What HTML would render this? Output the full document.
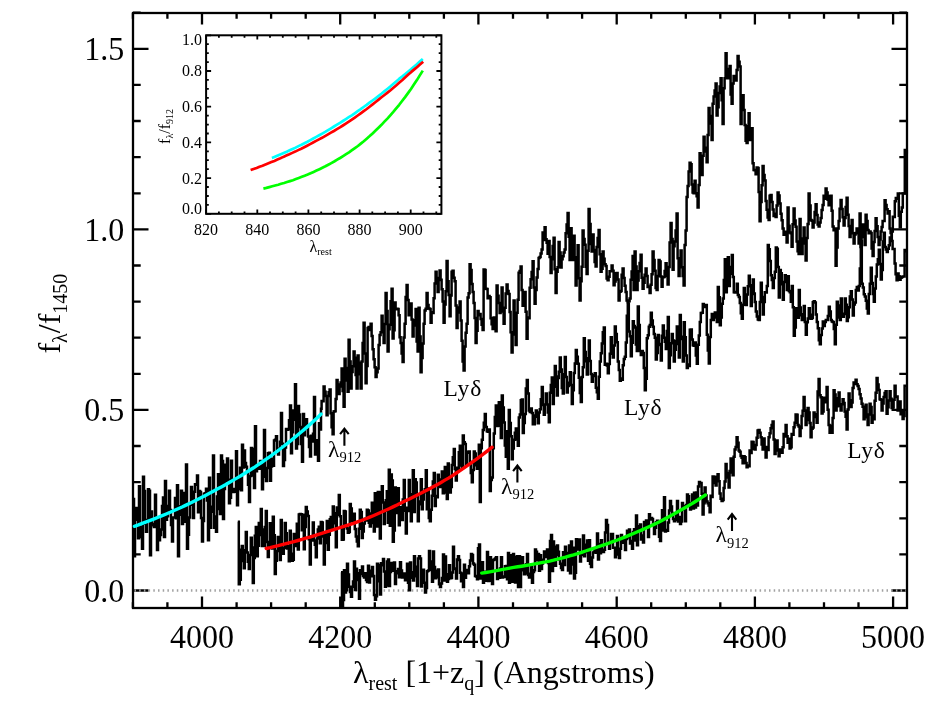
<!DOCTYPE html>
<html><head><meta charset="utf-8"><title>Spectra</title>
<style>html,body{margin:0;padding:0;background:#fff;font-family:"Liberation Serif",serif}svg text{font-family:"Liberation Serif",serif}svg text{filter:grayscale(1)}</style></head>
<body>
<svg width="941" height="715" viewBox="0 0 941 715" style="display:block">
<rect width="941" height="715" fill="#fff"/>
<g stroke="#000" stroke-width="2.3" fill="none" stroke-linecap="butt">
<rect x="133.0" y="13.0" width="774.0" height="595.0"/>
<path d="M132.9 608.0V602.2M132.9 13.0V18.8"/>
<path d="M167.4 608.0V602.2M167.4 13.0V18.8"/>
<path d="M202.0 608.0V596.5M202.0 13.0V24.5"/>
<path d="M236.6 608.0V602.2M236.6 13.0V18.8"/>
<path d="M271.1 608.0V602.2M271.1 13.0V18.8"/>
<path d="M305.7 608.0V602.2M305.7 13.0V18.8"/>
<path d="M340.2 608.0V596.5M340.2 13.0V24.5"/>
<path d="M374.8 608.0V602.2M374.8 13.0V18.8"/>
<path d="M409.3 608.0V602.2M409.3 13.0V18.8"/>
<path d="M443.9 608.0V602.2M443.9 13.0V18.8"/>
<path d="M478.4 608.0V596.5M478.4 13.0V24.5"/>
<path d="M513.0 608.0V602.2M513.0 13.0V18.8"/>
<path d="M547.5 608.0V602.2M547.5 13.0V18.8"/>
<path d="M582.1 608.0V602.2M582.1 13.0V18.8"/>
<path d="M616.7 608.0V596.5M616.7 13.0V24.5"/>
<path d="M651.2 608.0V602.2M651.2 13.0V18.8"/>
<path d="M685.8 608.0V602.2M685.8 13.0V18.8"/>
<path d="M720.3 608.0V602.2M720.3 13.0V18.8"/>
<path d="M754.9 608.0V596.5M754.9 13.0V24.5"/>
<path d="M789.4 608.0V602.2M789.4 13.0V18.8"/>
<path d="M824.0 608.0V602.2M824.0 13.0V18.8"/>
<path d="M858.5 608.0V602.2M858.5 13.0V18.8"/>
<path d="M893.1 608.0V596.5M893.1 13.0V24.5"/>
<path d="M133.0 590.5H148.5M907.0 590.5H891.5"/>
<path d="M133.0 554.4H140.7M907.0 554.4H899.3"/>
<path d="M133.0 518.3H140.7M907.0 518.3H899.3"/>
<path d="M133.0 482.2H140.7M907.0 482.2H899.3"/>
<path d="M133.0 446.0H140.7M907.0 446.0H899.3"/>
<path d="M133.0 409.9H148.5M907.0 409.9H891.5"/>
<path d="M133.0 373.8H140.7M907.0 373.8H899.3"/>
<path d="M133.0 337.7H140.7M907.0 337.7H899.3"/>
<path d="M133.0 301.6H140.7M907.0 301.6H899.3"/>
<path d="M133.0 265.5H140.7M907.0 265.5H899.3"/>
<path d="M133.0 229.4H148.5M907.0 229.4H891.5"/>
<path d="M133.0 193.3H140.7M907.0 193.3H899.3"/>
<path d="M133.0 157.1H140.7M907.0 157.1H899.3"/>
<path d="M133.0 121.0H140.7M907.0 121.0H899.3"/>
<path d="M133.0 84.9H140.7M907.0 84.9H899.3"/>
<path d="M133.0 48.8H148.5M907.0 48.8H891.5"/>
<path d="M133.0 12.7H140.7M907.0 12.7H899.3"/>
</g>
<line x1="134.5" y1="590.5" x2="906.0" y2="590.5" stroke="#a2a2a2" stroke-width="2.4" stroke-dasharray="1.5 3.2"/>
<g fill="none" stroke="#000" stroke-width="2.5" stroke-linejoin="miter" stroke-linecap="butt">
<path d="M341.0 572.2H342.0V607.3H343.0V600.0H344.0V570.2H345.0V592.4H346.0V590.3H347.0V563.7H348.0V574.5H349.0V586.8H350.0V592.1H351.0V596.7H352.0V586.7H353.0V581.6H354.0V561.6H355.0V589.9H356.0V568.8H357.0V573.2H358.0V579.9H359.0V598.8H360.0V570.2H361.0V574.1H362.0V566.5H363.0V576.0H364.0V577.5H365.0V573.2H366.0V579.9H367.0V582.0H368.0V565.8H369.0V582.6H370.0V570.7H371.0V576.3H372.0V567.1H373.0V576.1H374.0V595.0H375.0V599.8H376.0V596.3H377.0V563.7H378.0V581.2H379.0V564.9H380.0V594.5H381.0V563.3H382.0V565.3H383.0V559.0H384.0V571.5H385.0V586.7H386.0V585.6H387.0V561.4H388.0V559.5H389.0V586.0H390.0V571.9H391.0V562.9H392.0V563.4H393.0V570.7H394.0V562.6H395.0V583.9H396.0V571.3H397.0V573.2H398.0V569.1H399.0V577.3H400.0V562.2H401.0V570.4H402.0V577.5H403.0V574.1H404.0V573.6H405.0V580.3H406.0V575.7H407.0V563.7H408.0V582.8H409.0V590.3H410.0V562.5H411.0V577.8H412.0V572.3H413.0V580.6H414.0V556.3H415.0V576.2H416.0V566.7H417.0V586.0H418.0V558.5H419.0V556.3H420.0V558.4H421.0V586.5H422.0V569.8H423.0V569.8H424.0V582.7H425.0V592.4H426.0V588.0H427.0V571.3H428.0V570.5H429.0V551.0H430.0V569.7H431.0V561.4H432.0V581.8H433.0V551.6H434.0V567.1H435.0V578.2H436.0V577.2H437.0V570.7H438.0V569.4H439.0V584.2H440.0V587.1H441.0V583.5H442.0V577.9H443.0V554.6H444.0V580.5H445.0V556.6H446.0V574.3H447.0V581.8H448.0V579.1H449.0V565.2H450.0V578.3H451.0V577.9H452.0V572.4H453.0V546.7H454.0V568.9H455.0V568.5H456.0V578.6H457.0V559.4H458.0V556.3H459.0V559.9H460.0V572.7H461.0V581.3H462.0V573.4H463.0V587.1H464.0V564.8H465.0V577.8H466.0V570.1H467.0V570.2H468.0V573.3H469.0V566.2H470.0V560.4H471.0V554.1H472.0V555.1H473.0V563.5H474.0V564.8H475.0V575.9H476.0V576.4H477.0V579.2H478.0V548.3H479.0V544.6H480.0V578.4H481.0V572.3H482.0V562.2H483.0V582.8H484.0V571.8H485.0V572.8H486.0V580.8H487.0V552.0H488.0V581.1H489.0V580.8H490.0V557.3H491.0V573.3H492.0V583.9H493.0V559.9H494.0V559.6H495.0V558.6H496.0V557.3H497.0V578.9H498.0V570.4H499.0V577.7H500.0V568.6H501.0V557.2H502.0V577.5H503.0V576.4H504.0V577.1H505.0V566.2H506.0V565.9H507.0V579.3H508.0V553.1H509.0V582.8H510.0V580.3H511.0V555.2H512.0V581.8H513.0V554.1H514.0V556.9H515.0V582.4H516.0V578.0H517.0V556.3H518.0V587.1H519.0V556.3H520.0V587.1H521.0V570.2H522.0V557.3H523.0V565.8H524.0V574.3H525.0V573.5H526.0V564.2H527.0V554.1H528.0V575.0H529.0V577.6H530.0V573.8H531.0V566.1H532.0V582.8H533.0V571.9H534.0V570.2H535.0V549.5H536.0V551.7H537.0V560.3H538.0V554.0H539.0V570.8H540.0V555.3H541.0V569.0H542.0V563.6H543.0V559.7H544.0V551.6H545.0V557.1H546.0V552.4H547.0V549.5H548.0V562.9H549.0V581.8H550.0V541.1H551.0V535.0H552.0V571.0H553.0V541.6H554.0V546.8H555.0V565.8H556.0V555.1H557.0V545.6H558.0V551.8H559.0V559.6H560.0V563.8H561.0V567.9H562.0V570.1H563.0V552.3H564.0V564.9H565.0V546.7H566.0V552.9H567.0V556.6H568.0V570.4H569.0V545.4H570.0V573.3H571.0V541.4H572.0V564.6H573.0V547.8H574.0V578.6H575.0V572.7H576.0V539.3H577.0V549.5H578.0V544.3H579.0V539.6H580.0V561.6H581.0V552.6H582.0V554.7H583.0V535.4H584.0V556.3H585.0V544.7H586.0V552.2H587.0V540.4H588.0V560.8H589.0V540.3H590.0V563.8H591.0V566.9H592.0V557.4H593.0V552.4H594.0V551.4H595.0V549.3H596.0V552.7H597.0V533.5H598.0V559.5H599.0V544.1H600.0V553.2H601.0V540.3H602.0V551.5H603.0V552.0H604.0V549.8H605.0V532.6H606.0V520.1H607.0V525.1H608.0V542.7H609.0V548.8H610.0V542.1H611.0V534.1H612.0V534.0H613.0V547.8H614.0V547.7H615.0V557.3H616.0V549.0H617.0V536.1H618.0V554.5H619.0V558.0H620.0V548.8H621.0V535.0H622.0V539.8H623.0V542.8H624.0V538.4H625.0V549.9H626.0V539.0H627.0V530.8H628.0V537.6H629.0V529.6H630.0V543.6H631.0V541.1H632.0V548.8H633.0V532.1H634.0V529.2H635.0V540.4H636.0V515.5H637.0V545.2H638.0V530.1H639.0V526.2H640.0V524.4H641.0V539.6H642.0V535.6H643.0V542.5H644.0V521.9H645.0V527.7H646.0V520.4H647.0V525.4H648.0V537.0H649.0V514.2H650.0V519.4H651.0V518.1H652.0V519.1H653.0V524.2H654.0V534.0H655.0V527.8H656.0V522.3H657.0V520.8H658.0V523.3H659.0V536.8H660.0V541.0H661.0V521.0H662.0V510.2H663.0V530.6H664.0V497.2H665.0V531.4H666.0V530.0H667.0V530.8H668.0V522.6H669.0V510.5H670.0V501.0H671.0V506.5H672.0V513.0H673.0V519.0H674.0V521.2H675.0V520.1H676.0V514.8H677.0V501.0H678.0V521.5H679.0V517.1H680.0V524.0H681.0V521.4H682.0V503.1H683.0V506.3H684.0V509.3H685.0V521.2H686.0V505.0H687.0V494.6H688.0V496.3H689.0V503.6H690.0V509.5H691.0V502.9H692.0V494.6H693.0V508.4H694.0V492.8H695.0V507.4H696.0V492.4H697.0V505.4H698.0V486.5H699.0V481.9H700.0V483.1H701.6V493.7H702.6V514.5H703.6V503.2H704.6V487.6H705.6V495.5H706.6V501.5H707.6V503.3H708.6V505.5H709.6V512.2H710.6V495.8H711.6V497.0H712.6V476.4H713.6V483.1H714.6V476.8H715.6V485.4H716.6V479.7H717.6V474.2H718.6V481.3H719.6V493.6H720.6V498.8H721.6V500.9H722.6V499.9H723.6V488.1H724.6V481.4H725.6V464.1H726.6V472.9H727.6V477.5H728.6V487.6H729.6V470.9H730.6V458.5H731.6V472.6H732.6V475.3H733.6V456.7H734.6V449.5H735.6V447.1H736.6V437.2H737.6V442.8H738.6V450.5H739.6V451.8H740.6V456.1H741.6V457.8H742.6V463.3H743.6V456.3H744.6V457.2H745.6V463.0H746.6V467.2H747.6V465.6H748.6V466.3H749.6V450.5H750.6V453.1H751.6V441.7H752.6V441.9H753.6V448.8H754.6V449.5H755.6V445.1H756.6V437.7H757.6V430.5H758.6V430.1H759.6V432.8H760.6V437.3H761.6V444.5H762.6V449.5H763.6V438.4H764.6V447.3H765.6V457.4H766.6V447.1H767.6V449.9H768.6V437.2H769.6V433.3H770.6V428.2H771.6V425.1H772.6V421.6H773.6V439.4H774.6V454.0H775.6V450.4H776.6V440.6H777.6V450.0H778.6V456.3H779.6V449.4H780.6V451.9H781.6V452.8H782.6V447.3H783.6V434.1H784.6V436.4H785.6V424.9H786.6V436.3H787.6V442.8H788.6V438.8H789.6V448.5H790.6V447.3H791.6V434.0H792.6V434.7H793.6V427.2H794.6V422.8H795.6V414.4H796.6V414.8H797.6V424.9H798.6V426.6H799.6V436.1H800.6V428.0H801.6V416.0H802.6V410.7H803.6V396.9H804.6V410.6H805.6V424.9H806.6V419.9H807.6V408.1H808.6V412.6H809.6V423.0H810.6V437.2H811.6V428.7H812.6V427.5H813.6V412.6H814.6V414.2H815.6V417.1H816.6V422.7H817.6V391.4H818.6V379.0H819.6V395.2H820.6V397.2H821.6V413.6H822.6V411.5H823.6V397.7H824.6V402.2H825.6V399.3H826.6V386.9H827.6V409.8H828.6V424.9H829.6V432.8H830.6V425.7H831.6V432.8H832.6V418.0H833.6V390.2H834.6V394.6H835.6V410.4H836.6V406.3H837.6V398.3H838.6V392.5H839.6V406.1H840.6V410.4H841.6V404.3H842.6V399.2H843.6V402.9H844.6V411.5H845.6V416.8H846.6V429.4H847.6V409.4H848.6V393.6H849.6V400.2H850.6V407.0H851.6V402.6H852.6V388.0H853.6V382.6H854.6V383.7H855.6V379.7H856.6V384.3H857.6V386.0H858.6V389.1H859.6V394.3H860.6V398.5H861.6V403.7H862.6V406.7H863.6V419.3H864.6V410.7H865.6V404.8H866.6V417.2H867.6V424.9H868.6V414.4H869.6V403.7H870.6V407.0H871.6V422.7H872.6V415.5H873.6V419.3H874.6V400.7H875.6V392.8H876.6V377.9H877.6V384.6H878.6V390.1H879.6V399.2H880.6V399.7H881.6V410.4H882.6V403.5H883.6V396.9H884.6V392.9H885.6V391.3H886.6V413.7H887.6V407.2H888.6V400.5H889.6V391.3H890.6V398.8H891.6V408.1H892.6V407.5H893.6V399.8H894.6V385.7H895.6V396.9H896.6V396.4H897.6V410.4H898.6V408.0H899.6V401.4H900.6V414.2H901.6V411.5H902.6V419.1H903.6V416.0H904.6V385.7H905.6V385.7H906.6"/>
<path d="M237.8 521.8H238.8V584.3H239.8V579.8H240.8V549.8H241.8V546.0H242.8V560.9H243.8V568.3H244.8V550.3H245.8V532.0H246.8V552.4H247.8V561.7H248.8V569.0H249.8V555.1H250.8V537.7H251.8V547.5H252.8V583.0H253.8V557.9H254.8V535.8H255.8V527.0H256.8V556.2H257.8V545.7H258.8V523.1H259.8V535.1H260.8V509.0H261.8V545.9H262.8V529.4H263.8V546.0H264.8V527.0H265.8V510.9H266.8V542.1H267.8V556.9H268.8V545.3H269.8V523.2H270.8V533.3H271.8V548.4H272.8V516.7H273.8V535.2H274.8V574.1H275.8V560.8H276.8V551.1H277.8V537.1H278.8V548.3H279.8V560.1H280.8V519.9H281.8V547.8H282.8V553.7H283.8V547.7H284.8V523.1H285.8V533.3H286.8V548.6H287.8V546.2H288.8V561.3H289.8V530.7H290.8V553.7H291.8V560.7H292.8V559.8H293.8V534.1H294.8V546.0H295.8V534.9H296.8V523.7H297.8V549.5H298.8V514.4H299.8V514.1H300.8V514.3H301.8V530.2H302.8V514.8H303.8V549.2H304.8V527.1H305.8V507.1H306.8V511.4H307.8V516.0H308.8V539.2H309.8V564.5H310.8V536.4H311.8V540.5H312.8V522.4H313.8V540.6H314.8V544.7H315.8V557.2H316.8V538.4H317.8V529.4H318.8V526.8H319.8V543.3H320.8V522.1H321.8V522.4H322.8V536.6H323.8V564.5H324.8V535.0H325.8V543.1H326.8V521.1H327.8V549.8H328.8V534.7H329.8V519.2H330.8V517.1H331.8V528.5H332.8V506.5H333.8V523.2H334.8V513.2H335.8V547.3H336.8V507.6H337.8V514.7H338.8V495.0H339.8V516.3H340.8V526.3H341.8V539.8H342.8V539.6H343.8V511.1H344.8V511.6H345.8V526.4H346.8V528.6H347.8V532.8H348.8V532.0H349.8V504.1H350.8V508.6H351.8V521.3H352.8V515.1H353.8V513.7H354.8V528.9H355.8V536.6H356.8V541.4H357.8V546.2H358.8V528.8H359.8V509.8H360.8V512.0H361.8V537.9H362.8V531.4H363.8V523.4H364.8V518.8H365.8V520.6H366.8V509.8H367.8V510.6H368.8V522.8H369.8V526.4H370.8V513.6H371.8V502.8H372.8V523.1H373.8V531.5H374.8V493.3H375.8V499.0H376.8V526.4H377.8V492.0H378.8V514.1H379.8V538.5H380.8V492.3H381.8V486.2H382.8V502.4H383.8V523.9H384.8V510.8H385.8V500.3H386.8V491.3H387.8V522.8H388.8V469.7H389.8V525.8H390.8V474.5H391.8V480.5H392.8V541.7H393.8V530.4H394.8V487.5H395.8V513.1H396.8V491.1H397.8V488.2H398.8V525.2H399.8V507.2H400.8V517.8H401.8V520.1H402.8V499.4H403.8V479.9H404.8V510.7H405.8V533.4H406.8V507.8H407.8V510.9H408.8V479.9H409.8V509.9H410.8V521.3H411.8V494.3H412.8V470.3H413.8V512.1H414.8V479.3H415.8V482.4H416.8V496.3H417.8V521.3H418.8V504.3H419.8V501.6H420.8V479.2H421.8V509.2H422.8V499.6H423.8V492.2H424.8V489.3H425.8V470.3H426.8V509.2H427.8V488.5H428.8V518.0H429.8V521.3H430.8V509.7H431.8V495.8H432.8V481.6H433.8V472.9H434.8V506.0H435.8V496.0H436.8V497.3H437.8V474.8H438.8V479.6H439.8V486.9H440.8V482.9H441.8V471.6H442.8V493.3H443.8V482.7H444.8V467.1H445.8V492.5H446.8V499.0H447.8V463.6H448.8V477.9H449.8V492.6H450.8V486.9H451.8V464.9H452.8V457.3H453.8V449.1H454.8V469.1H455.8V480.6H456.8V467.8H457.8V470.8H458.8V452.3H459.8V445.7H460.8V465.6H461.8V468.7H462.8V435.4H463.8V442.2H464.8V444.1H465.8V465.3H466.8V452.8H467.8V451.8H468.8V451.6H469.8V461.9H470.8V473.1H471.8V482.3H472.8V470.1H473.8V451.6H474.8V453.6H475.8V465.2H476.8V468.7H477.8V458.2H478.8V444.8H479.8V502.0H480.8V448.2H481.8V439.7H482.8V430.0H483.8V422.7H484.8V414.1H485.8V426.9H486.8V431.2H487.8V431.7H488.8V429.5H489.8V490.9H490.8V480.1H491.8V477.6H492.8V448.2H493.8V433.6H494.8V417.0H495.8V405.6H496.8V426.1H497.8V425.8H498.8V402.2H499.8V417.7H500.8V438.0H501.8V395.4H502.8V407.6H503.8V422.6H504.8V445.5H505.8V456.8H506.8V431.2H507.8V468.7H508.8V409.9H509.8V423.0H510.8V436.3H511.8V459.3H512.8V448.5H513.8V439.7H514.8V432.7H515.8V428.6H516.8V439.6H517.8V445.7H518.8V417.5H519.8V414.6H520.8V400.2H521.8V399.6H522.8V432.9H523.8V423.0H524.8V414.1H525.8V388.5H526.8V380.0H527.8V393.5H528.8V410.5H529.8V412.1H530.8V408.4H531.8V413.1H532.8V424.3H533.8V424.3H534.8V415.4H535.8V410.5H536.8V416.7H537.8V423.3H538.8V412.4H539.8V409.2H540.8V399.2H541.8V387.1H542.8V405.1H543.8V414.8H544.8V404.5H545.8V393.5H546.8V404.5H547.8V412.4H548.8V422.2H549.8V392.8H550.8V385.0H551.8V377.6H552.8V404.1H553.8V386.7H554.8V365.9H555.8V376.6H556.8V395.6H557.8V377.9H558.8V371.8H559.8V357.4H560.8V369.4H561.8V387.9H562.8V393.5H563.8V374.3H564.8V357.0H565.8V377.0H566.8V392.5H567.8V386.0H568.8V382.7H569.8V372.3H570.8V385.1H571.8V404.1H572.8V390.2H573.8V373.1H574.8V363.4H575.8V349.9H576.8V356.8H577.8V363.8H578.8V377.7H579.8V393.0H580.8V402.0H581.8V377.0H582.8V367.2H583.8V338.3H584.8V352.1H585.8V361.2H586.8V374.4H587.8V358.2H588.8V340.4H589.8V361.1H590.8V373.9H591.8V381.8H592.8V375.1H593.8V376.1H594.8V373.3H595.8V387.8H596.8V392.2H597.8V398.8H598.8V376.8H599.8V361.6H600.8V353.2H601.8V343.4H602.8V332.2H603.8V327.6H604.8V364.8H605.8V363.8H606.8V365.4H607.8V373.3H608.8V363.9H609.8V353.8H610.8V337.2H611.8V350.4H612.8V357.4H613.8V345.4H614.8V326.6H615.8V334.1H616.8V342.3H617.8V361.6H618.8V369.9H619.8V380.8H620.8V378.4H621.8V379.7H622.8V365.3H623.8V359.1H624.8V356.8H625.8V342.5H626.8V315.7H627.8V304.3H628.8V331.6H629.8V336.3H630.8V356.3H631.8V342.7H632.8V321.3H633.8V325.9H634.8V327.6H635.8V344.5H636.8V351.0H637.8V306.4H638.8V324.9H639.8V351.0H640.8V355.0H641.8V350.9H642.8V353.1H643.8V368.0H644.8V390.3H645.8V378.8H646.8V338.3H647.8V335.3H648.8V326.8H649.8V324.9H650.8V312.8H651.8V320.4H652.8V326.8H653.8V334.0H654.8V337.7H655.8V359.5H656.8V353.0H657.8V335.1H658.8V345.1H659.8V343.9H660.8V360.6H661.8V335.8H662.8V325.5H663.8V337.7H664.8V341.8H665.8V348.9H666.8V331.0H667.8V317.0H668.8V368.0H669.8V355.2H670.8V343.3H671.8V334.0H672.8V340.5H673.8V361.6H674.8V349.8H675.8V341.1H676.8V326.6H677.8V344.0H678.8V357.4H679.8V314.9H680.8V336.7H681.8V339.0H682.8V361.6H683.8V322.3H684.8V337.2H685.8V355.6H686.8V368.0H687.8V364.4H688.8V365.9H689.8V329.8H690.8V329.5H691.8V339.6H692.8V345.3H693.8V345.7H694.8V342.5H695.8V355.6H696.8V363.8H697.8V344.8H698.8V335.4H699.8V322.0H700.8V313.1H701.8V312.7H702.8V304.0H703.8V305.3H704.8V307.1H705.8V305.0H706.8V334.8H707.8V350.6H708.8V363.5H709.8V337.1H710.8V319.9H711.8V314.1H712.8V320.0H713.8V317.4H714.8V312.5H715.8V316.1H716.8V322.0H717.8V287.0H718.8V297.2H719.8V325.2H720.8V317.5H721.8V303.7H722.8V298.6H723.8V279.9H724.8V259.3H725.8V292.3H726.8V274.8H727.8V257.2H728.8V285.9H729.8V273.8H730.8V267.1H731.8V255.1H732.8V276.9H733.8V292.3H734.8V292.6H735.8V292.0H736.8V283.8H737.8V295.0H738.8V297.0H739.8V302.9H740.8V313.2H741.8V318.8H742.8V304.7H743.8V288.0H744.8V299.8H745.8V305.0H746.8V294.6H747.8V286.2H748.8V275.7H749.8V285.3H750.8V306.1H751.8V294.0H752.8V279.5H753.8V293.6H754.8V301.9H755.8V311.4H756.8V316.4H757.8V319.4H758.8V319.9H759.8V302.1H760.8V282.7H761.8V296.9H762.8V314.6H763.8V301.9H764.8V292.3H765.8V292.6H766.8V285.9H767.8V245.1H768.8V249.3H769.8V261.1H770.8V275.3H771.8V280.0H772.8V288.0H773.8V278.0H774.8V271.7H775.8V247.6H776.8V248.7H777.8V267.0H778.8V297.6H779.8V269.9H780.8V273.2H781.8V284.2H782.8V299.7H783.8V281.9H784.8V275.3H785.8V281.0H786.8V290.1H787.8V276.3H788.8V291.0H789.8V292.2H790.8V301.8H791.8V285.9H792.8V307.2H793.8V335.8H794.8V327.5H795.8V308.2H796.8V315.2H797.8V317.8H798.8V290.1H799.8V307.4H800.8V315.3H801.8V319.9H802.8V314.2H803.8V306.1H804.8V322.0H805.8V334.8H806.8V322.3H807.8V318.6H808.8V308.2H809.8V314.8H810.8V318.8H811.8V318.1H812.8V302.2H813.8V301.2H814.8V302.4H815.8V314.5H816.8V322.0H817.8V328.3H818.8V340.2H819.8V344.3H820.8V334.9H821.8V328.4H822.8V321.6H823.8V326.0H824.8V322.0H825.8V320.1H826.8V319.9H827.8V315.9H828.8V306.7H829.8V311.6H830.8V319.9H831.8V321.6H832.8V322.0H833.8V328.9H834.8V344.3H835.8V324.7H836.8V301.8H837.8V305.5H838.8V317.4H839.8V319.9H840.8V298.6H841.8V313.7H842.8V316.7H843.8V314.1H844.8V298.6H845.8V304.7H846.8V321.0H847.8V317.2H848.8V307.3H849.8V296.6H850.8V291.2H851.8V299.4H852.8V315.6H853.8V304.4H854.8V302.5H855.8V290.1H856.8V286.9H857.8V290.4H858.8V285.9H859.8V268.4H860.8V241.3H861.8V283.8H862.8V287.4H863.8V294.3H864.8V296.5H865.8V300.8H866.8V308.5H867.8V313.5H868.8V293.9H869.8V283.8H870.8V267.8H871.8V282.9H872.8V294.1H873.8V301.8H874.8V288.6H875.8V276.4H876.8V264.6H877.8V259.3H878.8V249.8H879.8V263.9H880.8V279.5H881.8V270.0H882.8V241.6H883.8V232.8H884.8V247.0H885.8V249.5H886.8V251.9H887.8V248.8H888.8V245.2H889.8V237.4H890.8V240.0H891.8V231.4H892.8V216.7H893.8V216.9H894.8V201.3H895.8V197.9H896.8V198.8H897.8V193.6H898.8V215.8H899.8V227.2H900.8V211.7H901.8V207.4H902.8V193.6H903.8V193.6H904.8V150.1H905.8V152.5H906.8V150.1H907.0"/>
<path d="M133.0 499.0H134.0V556.3H135.0V515.9H136.0V508.0H137.0V519.8H138.0V538.2H139.0V486.3H140.0V536.9H141.0V526.8H142.0V548.8H143.0V476.7H144.0V491.0H145.0V523.8H146.0V531.7H147.0V520.0H148.0V489.2H149.0V490.7H150.0V555.2H151.0V511.5H152.0V524.1H153.0V525.2H154.0V527.0H155.0V494.8H156.0V525.2H157.0V549.9H158.0V518.9H159.0V540.2H160.0V534.9H161.0V529.6H162.0V506.1H163.0V497.4H164.0V537.1H165.0V481.0H166.0V519.8H167.0V516.3H168.0V506.1H169.0V490.7H170.0V510.0H171.0V525.1H172.0V541.4H173.0V517.6H174.0V517.4H175.0V498.1H176.0V518.3H177.0V485.2H178.0V556.3H179.0V506.2H180.0V514.8H181.0V490.7H182.0V523.9H183.0V511.5H184.0V492.9H185.0V521.7H186.0V464.6H187.0V548.8H188.0V534.7H189.0V517.5H190.0V504.1H191.0V486.9H192.0V504.8H193.0V518.0H194.0V491.8H195.0V484.2H196.0V484.8H197.0V475.6H198.0V512.3H199.0V491.1H200.0V492.0H201.0V518.0H202.0V541.4H203.0V521.0H204.0V493.7H205.0V493.2H206.0V488.8H207.0V500.4H208.0V540.3H209.0V477.8H210.0V527.8H211.0V511.8H212.0V506.7H213.0V455.5H214.0V527.8H215.0V516.6H216.0V531.8H217.0V496.5H218.0V474.3H219.0V508.9H220.0V514.1H221.0V455.5H222.0V460.9H223.0V519.1H224.0V489.1H225.0V464.7H226.0V481.2H227.0V458.6H228.0V479.7H229.0V503.3H230.0V497.8H231.0V460.7H232.0V489.6H233.0V491.9H234.0V489.0H235.0V491.7H236.0V451.2H237.0V505.3H238.0V488.9H239.0V477.2H240.0V467.7H241.0V490.2H242.0V444.8H243.0V467.6H244.0V450.4H245.0V463.1H246.0V466.8H247.0V471.3H248.0V484.8H249.0V502.1H250.0V476.1H251.0V448.0H252.0V449.0H253.0V475.4H254.0V488.0H255.0V426.3H256.0V471.3H257.0V465.3H258.0V466.1H259.0V468.7H260.0V461.1H261.0V465.4H262.0V489.3H263.0V464.6H264.0V429.9H265.0V476.7H266.0V481.1H267.0V468.0H268.0V453.3H269.0V452.8H270.0V480.8H271.0V466.4H272.0V458.8H273.0V465.7H274.0V440.6H275.0V439.8H276.0V436.3H277.0V451.3H278.0V454.4H279.0V448.7H280.0V441.8H281.0V412.9H282.0V443.7H283.0V466.1H284.0V459.9H285.0V447.4H286.0V429.1H287.0V429.7H288.0V429.3H289.0V420.2H290.0V405.5H291.0V453.3H292.0V432.3H293.0V410.6H294.0V419.8H295.0V384.3H296.0V448.5H297.0V444.1H298.0V405.9H299.0V414.4H300.0V426.9H301.0V444.0H302.0V461.8H303.0V413.9H304.0V435.2H305.0V428.8H306.0V419.3H307.0V425.2H308.0V436.6H309.0V447.1H310.0V456.5H311.0V435.8H312.0V441.6H313.0V433.8H314.0V397.0H315.0V454.5H316.0V449.0H317.0V440.2H318.0V460.8H319.0V423.3H320.0V429.6H321.0V408.8H321.6V401.1H322.6V401.2H323.6V386.5H324.6V391.8H325.6V396.0H326.6V415.2H327.6V396.0H328.6V392.3H329.6V389.6H330.6V413.3H331.6V427.3H332.6V434.3H333.6V411.6H334.6V411.2H335.6V399.0H336.6V380.1H337.6V384.6H338.6V393.9H339.6V386.5H340.6V382.5H341.6V368.4H342.6V391.0H343.6V406.7H344.6V358.8H345.6V367.9H346.6V380.4H347.6V391.8H348.6V339.7H349.6V361.6H350.6V388.6H351.6V372.0H352.6V366.2H353.6V351.4H354.6V357.7H355.6V375.1H356.6V388.6H357.6V355.6H358.6V362.7H359.6V374.3H360.6V388.6H361.6V361.5H362.6V343.1H363.6V322.7H364.6V353.6H365.6V383.3H366.6V366.1H367.6V328.0H368.6V326.9H369.6V330.0H370.6V323.8H371.6V335.9H372.6V349.3H373.6V359.2H374.6V367.2H375.6V376.9H376.6V372.2H377.6V368.5H378.6V345.0H379.6V335.1H380.6V332.3H381.6V315.7H382.6V330.0H383.6V342.9H384.6V324.1H385.6V292.9H386.6V311.1H387.6V351.4H388.6V329.3H389.6V324.7H390.6V301.3H391.6V288.7H392.6V338.6H393.6V330.3H394.6V302.5H395.6V309.2H396.6V308.7H397.6V309.1H398.6V315.3H399.6V337.3H400.6V343.0H401.6V353.5H402.6V362.0H403.6V337.4H404.6V323.8H405.6V296.9H406.6V285.1H407.6V300.0H408.6V315.3H409.6V311.8H410.6V303.6H411.6V319.6H412.6V336.5H413.6V325.5H414.6V320.2H415.6V308.9H416.6V341.5H417.6V351.4H418.6V307.8H419.6V336.4H420.6V372.2H421.6V358.1H422.6V343.5H423.6V323.8H424.6V310.6H425.6V308.7H426.6V292.9H427.6V305.1H428.6V308.6H429.6V309.1H430.6V322.7H431.6V312.3H432.6V312.9H433.6V298.3H434.6V283.6H435.6V271.7H436.6V277.9H437.6V291.9H438.6V279.9H439.6V270.6H440.6V279.7H441.6V289.3H442.6V301.5H443.6V322.7H444.6V304.4H445.6V291.2H446.6V261.1H447.6V281.3H448.6V294.9H449.6V316.3H450.6V295.5H451.6V271.7H452.6V270.7H453.6V277.8H454.6V281.3H455.6V305.6H456.6V328.0H457.6V312.5H458.6V307.5H459.6V301.4H460.6V320.4H461.6V340.8H462.6V361.5H463.6V370.5H464.6V346.6H465.6V332.7H466.6V323.8H467.6V297.6H468.6V293.2H469.6V264.3H470.6V270.1H471.6V284.0H472.6V291.9H473.6V303.1H474.6V318.1H475.6V342.9H476.6V330.8H477.6V311.0H478.6V315.2H479.6V313.9H480.6V319.0H481.6V324.7H482.6V330.1H483.6V269.6H484.6V270.1H485.6V288.8H486.6V288.9H487.6V298.3H488.6V296.1H489.6V297.2H490.6V318.3H491.6V324.2H492.6V329.1H493.6V317.4H494.6V324.1H495.6V331.2H496.6V285.5H497.6V295.7H498.6V303.1H499.6V313.1H500.6V304.3H501.6V287.6H502.6V311.6H503.6V323.8H504.6V307.7H505.6V293.5H506.6V284.4H507.6V290.9H508.6V294.0H509.6V312.1H510.6V332.2H511.6V352.5H512.6V334.6H513.6V300.4H514.6V319.1H515.6V345.0H516.6V312.8H517.6V299.7H518.6V272.8H519.6V271.0H520.6V266.5H521.6V289.9H522.6V305.8H523.6V302.8H524.6V292.0H525.6V311.8H526.6V338.8H527.6V317.6H528.6V318.2H529.6V287.8H530.6V279.3H531.6V272.0H532.6V261.2H533.6V287.4H534.6V303.7H535.6V290.1H536.6V277.4H537.6V269.1H538.6V258.0H539.6V257.1H540.6V253.6H541.6V249.5H542.6V232.4H543.6V239.9H544.6V227.2H545.6V239.2H546.6V242.8H547.6V253.8H548.6V241.0H549.6V256.9H550.6V272.9H551.6V259.3H552.6V246.0H553.6V237.8H554.6V269.2H555.6V293.1H556.6V271.8H557.6V267.3H558.6V242.1H559.6V252.4H560.6V267.6H561.6V259.3H562.6V256.2H563.6V252.4H564.6V249.5H565.6V233.3H566.6V224.6H567.6V213.0H568.6V236.8H569.6V260.1H570.6V228.3H571.6V246.0H572.6V260.1H573.6V235.7H574.6V257.3H575.6V285.6H576.6V266.5H577.6V245.3H578.6V278.3H579.6V300.5H580.6V281.2H581.6V266.8H582.6V230.4H583.6V238.9H584.6V244.7H585.6V266.8H586.6V274.0H587.6V250.8H588.6V209.1H589.6V224.0H590.6V244.1H591.6V251.6H592.6V234.6H593.6V250.0H594.6V262.0H595.6V266.5H596.6V246.9H597.6V237.9H598.6V230.0H599.6V254.3H600.6V271.8H601.6V268.7H602.6V251.6H603.6V258.8H604.6V264.2H605.6V266.1H606.6V278.5H607.6V280.3H608.6V276.7H609.6V271.2H610.6V271.2H611.6V265.5H612.6V270.7H613.6V285.2H614.6V281.4H615.6V273.2H616.6V272.9H617.6V279.5H618.6V300.5H619.6V291.7H620.6V290.9H621.6V274.8H622.6V268.6H623.6V278.0H624.6V285.7H625.6V292.0H626.6V300.5H627.6V302.1H628.6V301.2H629.6V298.4H630.6V279.8H631.6V271.6H632.6V255.9H633.6V289.9H634.6V251.6H635.6V266.5H636.6V289.9H637.6V280.6H638.6V271.3H639.6V263.1H640.6V254.8H641.6V277.7H642.6V288.8H643.6V282.7H644.6V274.8H645.6V268.6H646.6V275.9H647.6V287.0H648.6V286.6H649.6V293.1H650.6V284.7H651.6V274.3H652.6V251.6H653.6V260.1H654.6V270.7H655.6V287.9H656.6V289.9H657.6V275.9H658.6V260.1H659.6V261.6H660.6V276.4H661.6V286.7H662.6V277.3H663.6V277.1H664.6V270.9H665.6V263.3H666.6V275.9H667.6V284.6H668.6V267.1H669.6V242.5H670.6V222.9H671.6V238.9H672.6V269.7H673.6V246.3H674.6V241.4H675.6V230.4H676.6V213.4H677.6V258.3H678.6V276.1H679.6V263.9H680.6V250.6H681.6V267.2H682.6V276.1H683.6V285.6H684.6V245.0H685.6V230.4H686.6V197.1H687.6V186.1H688.6V171.4H689.6V162.8H690.6V164.3H691.6V184.4H692.6V192.5H693.6V193.2H694.6V180.8H695.6V193.2H696.6V196.3H697.6V207.4H698.6V185.1H699.6V153.2H700.6V165.1H701.6V175.0H702.6V155.8H703.6V136.7H704.6V147.7H705.6V151.5H706.6V162.2H707.6V135.1H708.6V108.0H709.6V116.1H710.6V123.5H711.6V139.9H712.6V103.8H713.6V96.4H714.6V90.5H715.6V83.6H716.6V115.5H717.6V107.2H718.6V93.1H719.6V86.5H720.6V78.3H721.6V100.2H722.6V124.0H723.6V88.2H724.6V78.3H725.6V53.2H726.6V69.1H727.6V78.3H728.6V76.1H729.6V65.9H730.6V94.5H731.6V103.8H732.6V83.6H733.6V76.1H734.6V77.4H735.6V80.4H736.6V69.9H737.6V55.9H738.6V61.8H739.6V66.6H740.6V124.0H741.6V108.1H742.6V95.3H743.6V109.9H744.6V125.0H745.6V140.8H746.6V143.1H747.6V126.3H748.6V113.3H749.6V139.9H750.6V132.7H751.6V128.2H752.6V163.3H753.6V170.1H754.6V170.2H755.6V174.2H756.6V167.5H757.6V168.1H758.6V192.0H759.6V221.2H760.6V201.9H761.6V185.2H762.6V165.9H763.6V175.0H764.6V180.5H765.6V201.0H766.6V209.7H767.6V217.5H768.6V220.1H769.6V195.7H770.6V195.1H771.6V201.9H772.6V209.5H773.6V215.9H774.6V213.8H775.6V217.0H776.6V205.6H777.6V192.5H778.6V195.4H779.6V203.6H780.6V213.8H781.6V220.2H782.6V228.6H783.6V234.8H784.6V231.8H785.6V232.6H786.6V242.5H787.6V207.4H788.6V225.7H789.6V232.5H790.6V233.3H791.6V246.7H792.6V224.2H793.6V208.4H794.6V220.6H795.6V226.7H796.6V241.4H797.6V251.3H798.6V254.1H799.6V219.1H800.6V238.5H801.6V254.1H802.6V243.4H803.6V227.6H804.6V238.6H805.6V260.5H806.6V238.0H807.6V224.0H808.6V193.6H809.6V205.4H810.6V220.1H811.6V220.8H812.6V227.6H813.6V222.5H814.6V212.1H815.6V204.2H816.6V215.1H817.6V224.4H818.6V226.5H819.6V222.5H820.6V218.0H821.6V210.0H822.6V205.1H823.6V195.7H824.6V198.7H825.6V188.6H826.6V192.5H827.6V199.7H828.6V205.3H829.6V196.0H830.6V195.7H831.6V210.7H832.6V226.5H833.6V230.3H834.6V228.6H835.6V265.8H836.6V247.6H837.6V228.6H838.6V221.0H839.6V208.8H840.6V199.9H841.6V209.0H842.6V217.2H843.6V225.5H844.6V217.9H845.6V207.0H846.6V197.8H847.6V214.7H848.6V226.1H849.6V237.1H850.6V227.7H851.6V220.1H852.6V233.3H853.6V243.5H854.6V234.5H855.6V232.9H856.6V228.6H857.6V233.2H858.6V243.5H859.6V213.4H860.6V247.0H861.6V237.0H862.6V224.5H863.6V236.4H864.6V244.9H865.6V214.8H866.6V221.1H867.6V230.0H868.6V233.2H869.6V231.4H870.6V232.9H871.6V248.6H872.6V256.0H873.6V242.1H874.6V230.9H875.6V218.2H876.6V226.3H877.6V237.0H878.6V244.9H879.6V239.4H880.6V231.4H881.6V227.0H882.6V221.0H883.6V221.1H884.6V200.2H885.6V205.1H886.6V209.2H887.6V213.4H888.6V211.3H889.6V228.6H890.6V233.0H891.6V241.1H892.6V248.9H893.6V248.9H894.6V263.4H895.6V274.2H896.6V280.3H897.6V273.4H898.6V276.3H899.6V279.8H900.6V277.7H901.6V277.0H902.6V276.6H903.6V276.5H904.6V250.1H905.6V251.3H906.6V250.1H907.0"/>
</g>
<polyline points="134.4,526.3 138.4,524.9 142.3,523.4 146.3,521.9 150.3,520.4 154.3,518.8 158.2,517.2 162.2,515.6 166.2,514.0 170.2,512.3 174.1,510.5 178.1,508.8 182.1,507.0 186.0,505.1 190.0,503.2 194.0,501.3 198.0,499.3 201.9,497.3 205.9,495.2 209.9,493.1 213.8,490.9 217.8,488.8 221.8,486.7 225.8,484.5 229.7,482.2 233.7,479.9 237.7,477.6 241.7,475.2 245.6,472.8 249.6,470.3 253.6,467.8 257.5,465.2 261.5,462.5 265.5,459.7 269.5,456.9 273.4,454.0 277.4,451.1 281.4,448.0 285.3,445.0 289.3,441.8 293.3,438.6 297.3,435.3 301.2,432.0 305.2,428.6 309.2,425.1 313.2,421.5 317.1,417.9 321.1,414.1" fill="none" stroke="#00ffff" stroke-width="3.4" stroke-linecap="round" stroke-linejoin="round"/>
<polyline points="266.2,548.5 270.2,547.6 274.1,546.6 278.1,545.7 282.1,544.7 286.0,543.7 290.0,542.6 293.9,541.6 297.9,540.5 301.9,539.4 305.8,538.2 309.8,537.1 313.8,535.9 317.7,534.7 321.7,533.4 325.6,532.2 329.6,530.9 333.6,529.7 337.5,528.4 341.5,527.2 345.5,525.9 349.4,524.6 353.4,523.3 357.4,521.9 361.3,520.5 365.3,519.0 369.2,517.4 373.2,515.7 377.2,514.0 381.1,512.3 385.1,510.5 389.1,508.7 393.0,506.9 397.0,505.0 400.9,503.0 404.9,501.0 408.9,499.2 412.8,497.3 416.8,495.3 420.8,493.3 424.7,491.3 428.7,489.2 432.7,487.1 436.6,484.9 440.6,482.7 444.5,480.4 448.5,478.1 452.5,475.6 456.4,473.0 460.4,470.4 464.4,467.7 468.3,464.9 472.3,462.1 476.2,459.3 480.2,456.3 484.2,453.4 488.1,450.3 492.1,447.2" fill="none" stroke="#ff0000" stroke-width="3.4" stroke-linecap="round" stroke-linejoin="round"/>
<polyline points="481.7,573.1 485.7,572.5 489.7,571.8 493.7,571.1 497.7,570.4 501.7,569.6 505.7,568.9 509.7,568.1 513.7,567.4 517.7,566.8 521.6,566.2 525.6,565.5 529.6,564.8 533.6,564.1 537.6,563.4 541.6,562.6 545.6,561.9 549.6,561.1 553.6,560.2 557.6,559.2 561.6,558.1 565.6,557.1 569.6,555.9 573.6,554.8 577.6,553.6 581.6,552.3 585.6,551.0 589.6,549.7 593.5,548.3 597.5,547.0 601.5,545.7 605.5,544.3 609.5,542.9 613.5,541.4 617.5,540.0 621.5,538.4 625.5,536.8 629.5,535.2 633.5,533.5 637.5,531.8 641.5,530.1 645.5,528.3 649.5,526.5 653.5,524.6 657.5,522.7 661.5,520.7 665.5,518.6 669.4,516.5 673.4,514.3 677.4,512.1 681.4,509.8 685.4,507.5 689.4,505.1 693.4,502.7 697.4,500.2 701.4,497.6 705.4,495.0" fill="none" stroke="#00ff00" stroke-width="3.4" stroke-linecap="round" stroke-linejoin="round"/>
<g font-family="Liberation Serif, serif" font-size="32px" fill="#000">
<text transform="translate(202.0,648.4) scale(1,1.04)" text-anchor="middle">4000</text>
<text transform="translate(340.2,648.4) scale(1,1.04)" text-anchor="middle">4200</text>
<text transform="translate(478.4,648.4) scale(1,1.04)" text-anchor="middle">4400</text>
<text transform="translate(616.7,648.4) scale(1,1.04)" text-anchor="middle">4600</text>
<text transform="translate(754.9,648.4) scale(1,1.04)" text-anchor="middle">4800</text>
<text transform="translate(893.1,648.4) scale(1,1.04)" text-anchor="middle">5000</text>
<text transform="translate(124.3,601.7) scale(1,1.04)" text-anchor="end">0.0</text>
<text transform="translate(124.3,421.1) scale(1,1.04)" text-anchor="end">0.5</text>
<text transform="translate(124.3,240.6) scale(1,1.04)" text-anchor="end">1.0</text>
<text transform="translate(124.3,60.0) scale(1,1.04)" text-anchor="end">1.5</text>
<text x="353" y="682.7">λ<tspan font-size="20px" dy="7">rest</tspan><tspan dy="-7"> [1+z</tspan><tspan font-size="20px" dy="7">q</tspan><tspan dy="-7">] (Angstroms)</tspan></text>
<text transform="translate(59.7,353.6) rotate(-90)">f<tspan font-size="20px" dy="7">λ</tspan><tspan dy="-7">/f</tspan><tspan font-size="20px" dy="7">1450</tspan></text>
</g>
<g font-family="Liberation Serif, serif" font-size="23.5px" fill="#000">
<text x="443.6" y="396.4" letter-spacing="0.9">Lyδ</text>
<text x="624.0" y="415.1" letter-spacing="0.9">Lyδ</text>
<text x="847.2" y="458.3" letter-spacing="0.9">Lyδ</text>
<text x="328.0" y="456.8">λ<tspan font-size="14.5px" dy="5.5">912</tspan></text>
<text x="501.0" y="493.7">λ<tspan font-size="14.5px" dy="5.5">912</tspan></text>
<text x="715.6" y="542.2">λ<tspan font-size="14.5px" dy="5.5">912</tspan></text>
</g>
<g stroke="#000" stroke-width="2.1" fill="none" stroke-linecap="butt" stroke-linejoin="miter">
<path d="M344.4 445.7V428.6M340.1 434.2L344.4 428.6L348.7 434.2"/>
<path d="M517.4 482.6V465.5M513.1 471.1L517.4 465.5L521.7 471.1"/>
<path d="M732.0 531.1V514.0M727.7 519.6L732.0 514.0L736.3 519.6"/>
</g>
<rect x="206.1" y="35.3" width="235.3" height="178.5" fill="#fff" stroke="none"/>
<polyline points="263.4,188.6 266.4,187.9 269.3,187.1 272.3,186.3 275.2,185.5 278.2,184.7 281.1,183.8 284.1,183.0 287.0,182.0 290.0,181.1 292.9,180.2 295.9,179.1 298.8,178.0 301.8,176.8 304.7,175.7 307.7,174.5 310.6,173.2 313.6,171.9 316.5,170.6 319.5,169.2 322.4,167.8 325.4,166.3 328.3,164.7 331.3,163.1 334.2,161.5 337.2,159.7 340.1,158.0 343.1,156.1 346.1,154.2 349.0,152.3 352.0,150.2 354.9,148.1 357.9,146.0 360.8,143.6 363.8,141.2 366.7,138.7 369.7,136.1 372.6,133.4 375.6,130.6 378.5,127.8 381.5,124.8 384.4,121.7 387.4,118.6 390.3,115.3 393.3,111.9 396.2,108.4 399.2,104.8 402.1,101.0 405.1,97.1 408.0,93.1 411.0,89.0 413.9,84.6 416.9,80.1 419.8,75.4 422.8,70.6" fill="none" stroke="#00ff00" stroke-width="2.7" stroke-linecap="butt" stroke-linejoin="round"/>
<polyline points="271.9,158.0 274.9,156.8 277.8,155.6 280.8,154.3 283.7,153.0 286.7,151.7 289.7,150.3 292.6,149.0 295.6,147.6 298.5,146.1 301.5,144.7 304.4,143.2 307.4,141.7 310.4,140.1 313.3,138.5 316.3,136.9 319.2,135.3 322.2,133.6 325.2,131.9 328.1,130.1 331.1,128.3 334.0,126.5 337.0,124.7 340.0,122.9 342.9,121.0 345.9,119.1 348.8,117.2 351.8,115.3 354.7,113.3 357.7,111.2 360.7,109.2 363.6,107.0 366.6,104.9 369.5,102.7 372.5,100.5 375.5,98.3 378.4,96.1 381.4,93.8 384.3,91.4 387.3,89.0 390.3,86.6 393.2,84.1 396.2,81.5 399.1,78.9 402.1,76.6 405.0,74.2 408.0,71.7 411.0,69.3 413.9,66.7 416.9,64.2 419.8,61.6 422.8,58.9" fill="none" stroke="#00ffff" stroke-width="2.7" stroke-linecap="butt" stroke-linejoin="round"/>
<polyline points="250.6,170.1 253.6,169.0 256.6,168.0 259.5,166.8 262.5,165.7 265.5,164.5 268.5,163.3 271.4,162.1 274.4,160.9 277.4,159.6 280.4,158.3 283.3,156.9 286.3,155.6 289.3,154.3 292.3,152.9 295.2,151.6 298.2,150.1 301.2,148.7 304.2,147.2 307.1,145.7 310.1,144.1 313.1,142.5 316.1,140.9 319.0,139.4 322.0,137.8 325.0,136.1 328.0,134.4 330.9,132.7 333.9,131.0 336.9,129.2 339.9,127.4 342.9,125.5 345.8,123.6 348.8,121.7 351.8,119.7 354.8,117.6 357.7,115.5 360.7,113.4 363.7,111.2 366.7,109.0 369.6,106.7 372.6,104.4 375.6,102.0 378.6,99.6 381.5,97.3 384.5,95.0 387.5,92.6 390.5,90.2 393.4,87.7 396.4,85.2 399.4,82.6 402.4,80.0 405.3,77.3 408.3,74.6 411.3,71.9 414.3,69.4 417.2,66.9 420.2,64.3 423.2,61.7" fill="none" stroke="#ff0000" stroke-width="2.7" stroke-linecap="butt" stroke-linejoin="round"/>
<g stroke="#000" stroke-width="2" fill="none">
<rect x="206.1" y="35.3" width="235.3" height="178.5"/>
<path d="M206.1 213.8V209.6M206.1 35.3V39.5" stroke-width="1.8"/>
<path d="M218.9 213.8V211.4M218.9 35.3V37.7" stroke-width="1.8"/>
<path d="M231.7 213.8V211.4M231.7 35.3V37.7" stroke-width="1.8"/>
<path d="M244.5 213.8V211.4M244.5 35.3V37.7" stroke-width="1.8"/>
<path d="M257.3 213.8V209.6M257.3 35.3V39.5" stroke-width="1.8"/>
<path d="M270.0 213.8V211.4M270.0 35.3V37.7" stroke-width="1.8"/>
<path d="M282.8 213.8V211.4M282.8 35.3V37.7" stroke-width="1.8"/>
<path d="M295.6 213.8V211.4M295.6 35.3V37.7" stroke-width="1.8"/>
<path d="M308.4 213.8V209.6M308.4 35.3V39.5" stroke-width="1.8"/>
<path d="M321.2 213.8V211.4M321.2 35.3V37.7" stroke-width="1.8"/>
<path d="M334.0 213.8V211.4M334.0 35.3V37.7" stroke-width="1.8"/>
<path d="M346.8 213.8V211.4M346.8 35.3V37.7" stroke-width="1.8"/>
<path d="M359.6 213.8V209.6M359.6 35.3V39.5" stroke-width="1.8"/>
<path d="M372.3 213.8V211.4M372.3 35.3V37.7" stroke-width="1.8"/>
<path d="M385.1 213.8V211.4M385.1 35.3V37.7" stroke-width="1.8"/>
<path d="M397.9 213.8V211.4M397.9 35.3V37.7" stroke-width="1.8"/>
<path d="M410.7 213.8V209.6M410.7 35.3V39.5" stroke-width="1.8"/>
<path d="M423.5 213.8V211.4M423.5 35.3V37.7" stroke-width="1.8"/>
<path d="M436.3 213.8V211.4M436.3 35.3V37.7" stroke-width="1.8"/>
<path d="M206.1 213.8H211.1M441.4 213.8H436.4" stroke-width="1.8"/>
<path d="M206.1 204.9H208.8M441.4 204.9H438.7" stroke-width="1.8"/>
<path d="M206.1 196.0H208.8M441.4 196.0H438.7" stroke-width="1.8"/>
<path d="M206.1 187.0H208.8M441.4 187.0H438.7" stroke-width="1.8"/>
<path d="M206.1 178.1H211.1M441.4 178.1H436.4" stroke-width="1.8"/>
<path d="M206.1 169.2H208.8M441.4 169.2H438.7" stroke-width="1.8"/>
<path d="M206.1 160.2H208.8M441.4 160.2H438.7" stroke-width="1.8"/>
<path d="M206.1 151.3H208.8M441.4 151.3H438.7" stroke-width="1.8"/>
<path d="M206.1 142.4H211.1M441.4 142.4H436.4" stroke-width="1.8"/>
<path d="M206.1 133.5H208.8M441.4 133.5H438.7" stroke-width="1.8"/>
<path d="M206.1 124.6H208.8M441.4 124.6H438.7" stroke-width="1.8"/>
<path d="M206.1 115.6H208.8M441.4 115.6H438.7" stroke-width="1.8"/>
<path d="M206.1 106.7H211.1M441.4 106.7H436.4" stroke-width="1.8"/>
<path d="M206.1 97.8H208.8M441.4 97.8H438.7" stroke-width="1.8"/>
<path d="M206.1 88.8H208.8M441.4 88.8H438.7" stroke-width="1.8"/>
<path d="M206.1 79.9H208.8M441.4 79.9H438.7" stroke-width="1.8"/>
<path d="M206.1 71.0H211.1M441.4 71.0H436.4" stroke-width="1.8"/>
<path d="M206.1 62.1H208.8M441.4 62.1H438.7" stroke-width="1.8"/>
<path d="M206.1 53.2H208.8M441.4 53.2H438.7" stroke-width="1.8"/>
<path d="M206.1 44.2H208.8M441.4 44.2H438.7" stroke-width="1.8"/>
<path d="M206.1 35.3H211.1M441.4 35.3H436.4" stroke-width="1.8"/>
</g>
<g font-family="Liberation Serif, serif" font-size="16px" fill="#000">
<text x="206.1" y="234.5" text-anchor="middle">820</text>
<text x="257.3" y="234.5" text-anchor="middle">840</text>
<text x="308.4" y="234.5" text-anchor="middle">860</text>
<text x="359.6" y="234.5" text-anchor="middle">880</text>
<text x="410.7" y="234.5" text-anchor="middle">900</text>
<text x="202.1" y="214.3" text-anchor="end">0.0</text>
<text x="202.1" y="183.5" text-anchor="end">0.2</text>
<text x="202.1" y="147.8" text-anchor="end">0.4</text>
<text x="202.1" y="112.1" text-anchor="end">0.6</text>
<text x="202.1" y="76.4" text-anchor="end">0.8</text>
<text x="202.1" y="44.9" text-anchor="end">1.0</text>
<text x="309.5" y="251.7">λ<tspan font-size="10px" dy="3.5">rest</tspan></text>
<text transform="translate(169.7,143.9) rotate(-90)">f<tspan font-size="10px" dy="3.5">λ</tspan><tspan dy="-3.5">/f</tspan><tspan font-size="10px" dy="3.5">912</tspan></text>
</g>
</svg>
</body></html>
